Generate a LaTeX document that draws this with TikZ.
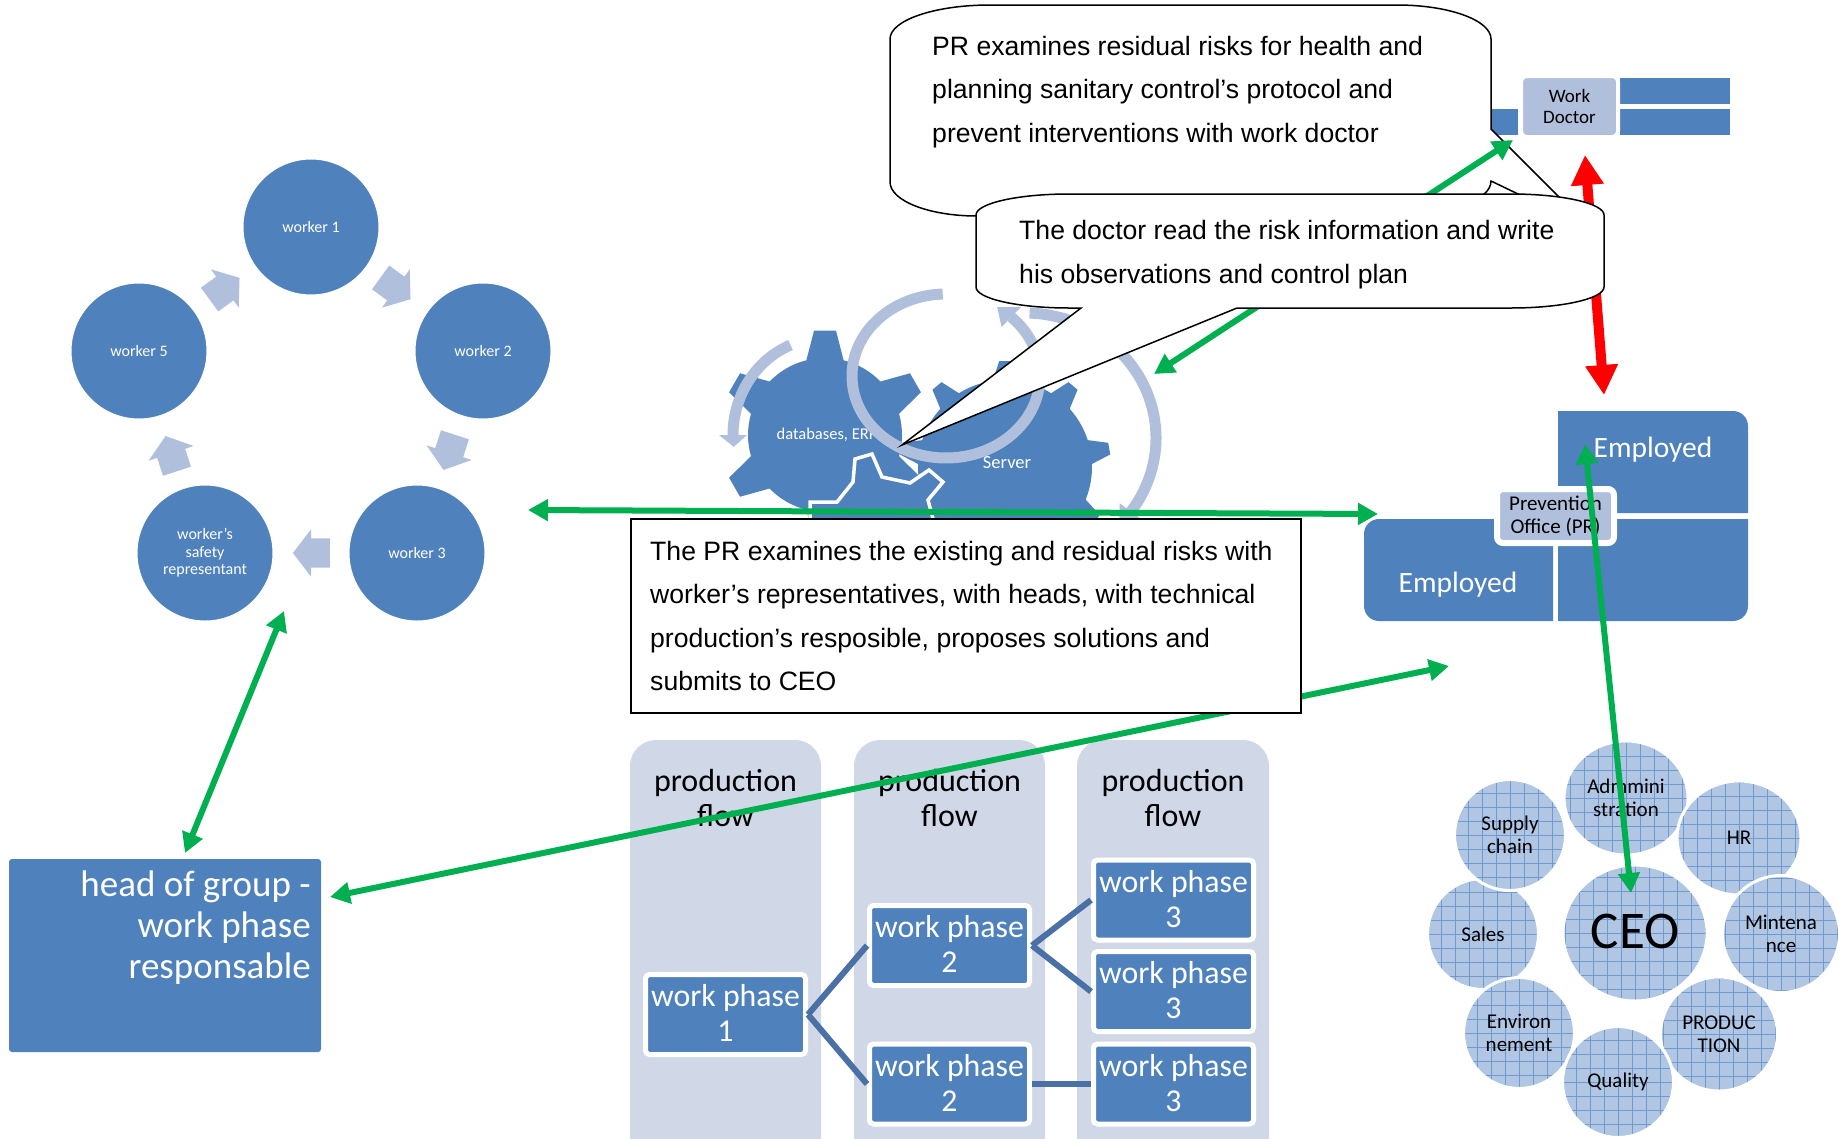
\documentclass[tikz,border=0pt]{standalone}
\usepackage{fontspec}
\setmainfont{Carlito}
\newfontfamily\arialf{Liberation Sans}
\usetikzlibrary{shapes.geometric,shapes.arrows,arrows.meta,calc}
\definecolor{blu}{HTML}{4F81BD}
\definecolor{lite}{HTML}{B0C0DC}
\definecolor{colbg}{HTML}{D0D8E8}
\definecolor{grn}{HTML}{00B050}
\definecolor{lnk}{HTML}{4A70A6}
\definecolor{hatch}{HTML}{B0C6E3}
\definecolor{hline}{HTML}{6F9ACF}
\newcommand{\fsz}[2]{\fontsize{#1}{#2}\selectfont}
\newcommand{\wph}[1]{\raisebox{2.5pt}{work phase}\\\raisebox{2.5pt}{#1}}
\tikzset{
 worker/.style={circle,fill=blu,draw=white,line width=1pt,minimum size=136pt,inner sep=0pt,text=white,align=center,font=\fsz{16}{17.5}},
 turn/.style={single arrow,fill=lite,minimum height=37pt,minimum width=47pt,single arrow head extend=9pt,single arrow tip angle=105,inner xsep=0pt,inner ysep=14.5pt,anchor=center},
 bluebox/.style={fill=blu,draw=none},
 ring/.style={draw=lite,line width=11pt},
 gang/.style={{Triangle[length=20pt,width=21pt]}-{Triangle[length=20pt,width=21pt]},draw=grn,line width=6pt},
 redgang/.style={{Triangle[length=30pt,width=31pt]}-{Triangle[length=30pt,width=31pt]},draw=red,line width=10pt},
 callout/.style={draw=black,fill=white,line width=1.5pt,line join=miter},
 arialtext/.style={anchor=north west,inner sep=0pt,align=left,font=\arialf\fsz{26.6}{43.4}},
 colbox/.style={fill=colbg,rounded corners=26pt},
 coltitle/.style={font=\fsz{32}{35},align=center,text=black},
 phase/.style={fill=blu,draw=white,line width=5pt,rounded corners=4pt,minimum width=160pt,minimum height=80pt,inner sep=0pt,text=white,align=center,font=\fsz{31.8}{35}},
 link/.style={draw=lnk,line width=6pt},
 bub/.style={draw=white,line width=3pt,fill=hatch,ellipse,inner sep=0pt,align=center,text=black,font=\fsz{21}{23.5},
  path picture={
   \foreach \k in {-7,...,7}{
    \draw[hline,line width=.6pt] ([xshift=\k*14pt]path picture bounding box.north) -- ([xshift=\k*14pt]path picture bounding box.south);
    \draw[hline,line width=.6pt] ([yshift=\k*14pt]path picture bounding box.west) -- ([yshift=\k*14pt]path picture bounding box.east);
   }}},
}
% style, cx, cy, R, Rt, half base, half tip, first angle, number of teeth
\newcommand{\gear}[9]{%
 \begin{scope}[shift={(#2,#3)}]
 \pgfmathsetmacro{\stp}{360/#9}
 \pgfmathtruncatemacro{\lastt}{#9-1}
 \path[#1] ({#8-#6}:#4pt) \foreach \i in {0,...,\lastt}{
   -- ({#8+\i*\stp-#6}:#4pt) -- ({#8+\i*\stp-#7}:#5pt) -- ({#8+\i*\stp+#7}:#5pt) -- ({#8+\i*\stp+#6}:#4pt)
   arc[start angle={#8+\i*\stp+#6},end angle={#8+(\i+1)*\stp-#6},radius=#4pt]
 } -- cycle;
 \end{scope}}
% cx, cy, rx, ry, start, end, tip angle, half head
\newcommand{\ringarrow}[8]{%
 \begin{scope}[shift={(#1,#2)}]
 \draw[ring] ({#3pt*cos(#5)},{#4pt*sin(#5)}) arc[start angle=#5,end angle=#6,x radius=#3pt,y radius=#4pt];
 \fill[lite] ({(#3pt+#8pt)*cos(#6)},{(#4pt+#8pt)*sin(#6)}) -- ({(#3pt-#8pt)*cos(#6)},{(#4pt-#8pt)*sin(#6)}) -- ({#3pt*cos(#7)},{#4pt*sin(#7)}) -- cycle;
 \end{scope}}
\begin{document}
\begin{tikzpicture}[x=1pt,y=-1pt]
\useasboundingbox (0,0) rectangle (1838,1138);
% worker cycle
\node[worker] (w1) at (311,227) {worker 1};
\node[worker] (w2) at (483,351) {worker 2};
\node[worker] (w3) at (417,553) {worker 3};
\node[worker] (rep) at (205,553) {worker's\\safety\\representant};
\node[worker] (w5) at (139,351) {worker 5};
\node[turn,rotate=-36] (t1) at (391,285) {};
\node[turn,rotate=-108] (t2) at (451,447) {};
\node[turn,rotate=180] (t3) at (317,553) {};
\node[turn,rotate=108] (t4) at (173,459) {};
\node[turn,rotate=36] (t5) at (220,292) {};
% head of group
\path[bluebox,rounded corners=3pt] (9,859) rectangle (321,1052);
\node[anchor=north east,inner sep=0pt,align=right,text=white,font=\fsz{37}{40.6}] (head) at (311,871) {head of group -\\work phase\\responsable};
% gears
\gear{fill=blu}{1005}{467}{87}{106}{8}{3.2}{90}{9}
\gear{fill=blu}{825}{435}{77}{105}{14}{6}{90}{6}
\path[fill=blu,draw=white,line width=3.5pt] (810,526) -- (810,502) -- (837,502) -- (853,482) -- (855,459) -- (872,454) -- (882,477) -- (910,483) -- (929,470) -- (943,482) -- (928,500) -- (935,526) -- cycle;
\node[text=white,font=\fsz{16.5}{19},inner sep=0pt] (db) at (827,435) {databases, ERP};
\node[text=white,font=\fsz{18.5}{20},inner sep=0pt] (srv) at (1007,463) {Server};
\ringarrow{825}{435}{92}{97}{112}{180}{187}{14}
\ringarrow{946}{376}{94}{82}{92}{406}{417}{14}
\ringarrow{1025}{438}{131}{125}{88}{-36}{-44}{14}
% employed
\path[bluebox,rounded corners=0pt] (1558,411) -- (1733,411) arc[start angle=90,end angle=0,radius=15pt] -- (1748,513) -- (1558,513) -- cycle;
\path[bluebox] (1379,519) -- (1553,519) -- (1553,621) -- (1379,621) arc[start angle=270,end angle=180,radius=15pt] -- (1364,534) arc[start angle=180,end angle=90,radius=15pt] -- cycle;
\path[bluebox] (1558,519) -- (1748,519) -- (1748,606) arc[start angle=0,end angle=-90,radius=15pt] -- (1558,621) -- cycle;
\node[text=white,font=\fsz{29.5}{32},inner sep=0pt] (e1) at (1653,450) {Employed};
\node[text=white,font=\fsz{29.5}{32},inner sep=0pt] (e2) at (1458,585) {Employed};
\node[fill=lite,draw=white,line width=6pt,rounded corners=6pt,minimum width=117pt,minimum height=54pt,inner sep=0pt,align=center,text=black,font=\fsz{21}{23.5}] (po) at (1555.5,516) {Prevention\\Office (PR)};
% work doctor
\path[bluebox] (1620,78) rectangle (1730,104);
\path[bluebox] (1620,109) rectangle (1730,135);
\path[bluebox] (1480,109) rectangle (1518,135);
\node[fill=lite,draw=white,line width=4pt,rounded corners=6pt,minimum width=97pt,minimum height=61pt,inner sep=0pt,align=center,text=black,font=\fsz{19}{21}] (doc) at (1569.5,106.5) {Work\\Doctor};
% callout 1
\path[callout] (990,5) -- (1397,5) arc[start angle=90,end angle=0,x radius=94pt,y radius=34pt] -- (1491,129) -- (1591,229) -- (1491,181) arc[start angle=0,end angle=-90,x radius=94pt,y radius=35pt] -- (977,216) arc[start angle=-90,end angle=-180,x radius=87pt,y radius=34pt] -- (890,39) arc[start angle=180,end angle=90,x radius=100pt,y radius=34pt] -- cycle;
\node[arialtext] (c1t) at (932,36) {PR examines residual risks for health and\\planning sanitary control’s protocol and\\prevent interventions with work doctor};
% red and green under callout 2
\coordinate (ra) at (1585,155);
\coordinate (rb) at (1604,395);
\draw[redgang] (ra) -- (rb);
\coordinate (ga) at (1513,140);
\coordinate (gb) at (1154,374);
\draw[gang] (ga) -- (gb);
% callout 2
\path[callout] (1069,194) -- (1511,194) arc[start angle=90,end angle=0,x radius=93pt,y radius=21pt] -- (1604,287) arc[start angle=0,end angle=-90,x radius=93pt,y radius=21pt] -- (1237,308) -- (902,445) -- (1081,308) -- (1069,308) arc[start angle=-90,end angle=-180,x radius=93pt,y radius=21pt] -- (976,215) arc[start angle=180,end angle=90,x radius=93pt,y radius=21pt] -- cycle;
\node[arialtext] (c2t) at (1019,220.5) {The doctor read the risk information and write\\his observations and control plan};
% production columns
\path[colbox] (630,740) rectangle (821,1170);
\path[colbox] (854,740) rectangle (1045,1170);
\path[colbox] (1077,740) rectangle (1269,1170);
\node[coltitle] (f1) at (725.5,798) {production\\flow};
\node[coltitle] (f2) at (949.5,798) {production\\flow};
\node[coltitle] (f3) at (1173,798) {production\\flow};
\node[phase] (p1) at (725.5,1014.5) {\wph{1}};
\node[phase] (p2a) at (949.5,945.5) {\wph{2}};
\node[phase] (p2b) at (949.5,1084) {\wph{2}};
\node[phase] (p3a) at (1173.5,900) {\wph{3}};
\node[phase] (p3b) at (1173.5,991.5) {\wph{3}};
\node[phase] (p3c) at (1173.5,1084) {\wph{3}};
\draw[link] (p1.east) -- (p2a.west);
\draw[link] (p1.east) -- (p2b.west);
\draw[link] (p2a.east) -- (p3a.west);
\draw[link] (p2a.east) -- (p3b.west);
\draw[link] (p2b.east) -- (p3c.west);
% bubbles
\node[bub,minimum width=111pt,minimum height=111pt] (sales) at (1483,934) {Sales};
\node[bub,minimum width=111pt,minimum height=111pt] (sup) at (1510,835) {Supply\\chain};
\node[bub,minimum width=111pt,minimum height=111pt] (env) at (1519,1033) {Environ\\nement};
\node[bub,minimum width=124pt,minimum height=114pt] (adm) at (1626,798) {Admmini\\stration};
\node[bub,minimum width=124pt,minimum height=114pt] (hr) at (1739,838) {HR};
\node[bub,minimum width=117pt,minimum height=117pt] (mnt) at (1781,934) {Mintena\\nce};
\node[bub,minimum width=117pt,minimum height=114pt] (prd) at (1719,1034) {PRODUC\\TION};
\node[bub,minimum width=111pt,minimum height=111pt] (qua) at (1618,1082) {Quality};
\node[bub,minimum width=144pt,minimum height=136pt,font=\fsz{53}{55}] (ceo) at (1635,933) {\raisebox{3pt}{CEO}};
% green connectors
\coordinate (ha) at (528,510);
\coordinate (hb) at (1378,514);
\draw[gang] (ha) -- (hb);
\coordinate (la) at (330,897);
\coordinate (lb) at (1449,666);
\draw[gang] (la) -- (lb);
\coordinate (va) at (1585,444);
\coordinate (vb) at (1631,893);
\draw[gang] (va) -- (vb);
\coordinate (ea) at (284,611);
\coordinate (eb) at (185,853);
\draw[gang] (ea) -- (eb);
% main text box
\node[draw=black,fill=white,line width=1.5pt,minimum width=670pt,minimum height=194pt,inner sep=0pt,anchor=north west] (mainbox) at (630,518) {};
\node[arialtext] (mt) at (650,541) {The PR examines the existing and residual risks with\\worker’s representatives, with heads, with technical\\production’s resposible, proposes solutions and\\submits to CEO};
\end{tikzpicture}
\end{document}
